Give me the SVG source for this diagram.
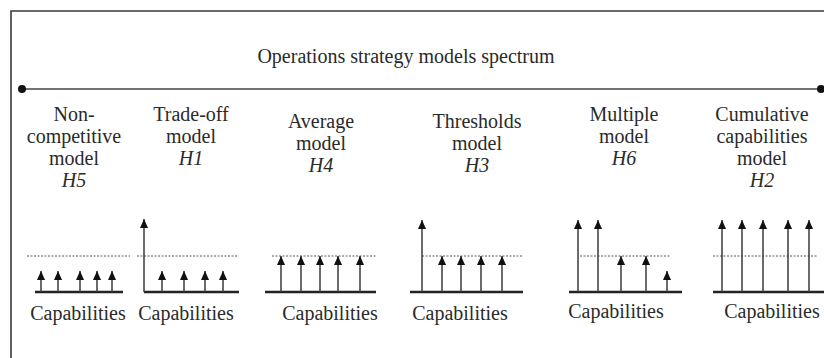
<svg xmlns="http://www.w3.org/2000/svg" width="824" height="358" viewBox="0 0 824 358">
  <style>
    text { font-family: "Liberation Serif", "Times New Roman", serif; font-size: 20px; fill: #2a2a2a; text-anchor: middle; }
    .it { font-style: italic; }
    .frame { fill: none; stroke: #3a3a3a; stroke-width: 1.6; }
    .spectrum { stroke: #444; stroke-width: 1.6; }
    .axis { stroke: #222; stroke-width: 2.6; }
    .shaft { stroke: #3a3a3a; stroke-width: 1.5; marker-end: url(#head); }
    .level { stroke: #555; stroke-width: 1; stroke-dasharray: 2 1.5; }
  </style>
  <defs>
    <marker id="head" viewBox="0 0 10 10" refX="10" refY="5" markerWidth="10" markerHeight="9" markerUnits="userSpaceOnUse" orient="auto">
      <path d="M0,0.5 L10,5 L0,9.5 z" fill="#111"/>
    </marker>
  </defs>

  <rect width="824" height="358" fill="#fff"/>

  <!-- frame (top and left edges) -->
  <path class="frame" d="M11,358 V11 H824"/>

  <!-- spectrum axis -->
  <g id="spectrum">
    <text x="406" y="63">Operations strategy models spectrum</text>
    <line class="spectrum" x1="22" y1="89" x2="821" y2="89"/>
    <circle cx="22" cy="89" r="4" fill="#111"/>
    <circle cx="821" cy="89" r="4" fill="#111"/>
  </g>

  <!-- H5: non-competitive model -->
  <g id="non-competitive">
    <text x="74" y="121">Non-</text>
    <text x="74" y="143">competitive</text>
    <text x="74" y="165">model</text>
    <text class="it" x="74" y="187">H5</text>
    <line class="level" x1="27" y1="256" x2="130" y2="256"/>
    <line class="axis" x1="35" y1="292" x2="123" y2="292"/>
    <line class="shaft" x1="41" y1="292" x2="41" y2="271"/>
    <line class="shaft" x1="58" y1="292" x2="58" y2="271"/>
    <line class="shaft" x1="80" y1="292" x2="80" y2="271"/>
    <line class="shaft" x1="97" y1="292" x2="97" y2="271"/>
    <line class="shaft" x1="112" y1="292" x2="112" y2="271"/>
    <text x="78" y="320">Capabilities</text>
  </g>

  <!-- H1: trade-off model -->
  <g id="trade-off">
    <text x="191" y="121">Trade-off</text>
    <text x="191" y="143">model</text>
    <text class="it" x="191" y="165">H1</text>
    <line class="level" x1="137" y1="256" x2="239" y2="256"/>
    <line class="axis" x1="144" y1="292" x2="239" y2="292"/>
    <line class="shaft" x1="144" y1="292" x2="144" y2="219"/>
    <line class="shaft" x1="162" y1="292" x2="162" y2="271"/>
    <line class="shaft" x1="184" y1="292" x2="184" y2="271"/>
    <line class="shaft" x1="205" y1="292" x2="205" y2="271"/>
    <line class="shaft" x1="223" y1="292" x2="223" y2="271"/>
    <text x="186" y="320">Capabilities</text>
  </g>

  <!-- H4: average model -->
  <g id="average">
    <text x="321" y="128">Average</text>
    <text x="321" y="150">model</text>
    <text class="it" x="321" y="172">H4</text>
    <line class="level" x1="272" y1="256" x2="376" y2="256"/>
    <line class="axis" x1="265" y1="292" x2="376" y2="292"/>
    <line class="shaft" x1="281" y1="292" x2="281" y2="256"/>
    <line class="shaft" x1="301" y1="292" x2="301" y2="256"/>
    <line class="shaft" x1="320" y1="292" x2="320" y2="256"/>
    <line class="shaft" x1="338" y1="292" x2="338" y2="256"/>
    <line class="shaft" x1="360" y1="292" x2="360" y2="256"/>
    <text x="330" y="320">Capabilities</text>
  </g>

  <!-- H3: thresholds model -->
  <g id="thresholds">
    <text x="477" y="128">Thresholds</text>
    <text x="477" y="150">model</text>
    <text class="it" x="477" y="172">H3</text>
    <line class="level" x1="422" y1="256" x2="523" y2="256"/>
    <line class="axis" x1="410" y1="292" x2="523" y2="292"/>
    <line class="shaft" x1="422" y1="292" x2="422" y2="220"/>
    <line class="shaft" x1="442" y1="292" x2="442" y2="256"/>
    <line class="shaft" x1="461" y1="292" x2="461" y2="256"/>
    <line class="shaft" x1="481" y1="292" x2="481" y2="256"/>
    <line class="shaft" x1="502" y1="292" x2="502" y2="256"/>
    <text x="460" y="320">Capabilities</text>
  </g>

  <!-- H6: multiple model -->
  <g id="multiple">
    <text x="624" y="121">Multiple</text>
    <text x="624" y="143">model</text>
    <text class="it" x="624" y="165">H6</text>
    <line class="level" x1="580" y1="256" x2="670" y2="256"/>
    <line class="axis" x1="569" y1="292" x2="682" y2="292"/>
    <line class="shaft" x1="578" y1="292" x2="578" y2="220"/>
    <line class="shaft" x1="598" y1="292" x2="598" y2="220"/>
    <line class="shaft" x1="621" y1="292" x2="621" y2="256"/>
    <line class="shaft" x1="646" y1="292" x2="646" y2="256"/>
    <line class="shaft" x1="667" y1="292" x2="667" y2="271"/>
    <text x="616" y="318">Capabilities</text>
  </g>

  <!-- H2: cumulative capabilities model -->
  <g id="cumulative">
    <text x="762" y="121">Cumulative</text>
    <text x="762" y="143">capabilities</text>
    <text x="762" y="165">model</text>
    <text class="it" x="762" y="187">H2</text>
    <line class="level" x1="713" y1="256" x2="817" y2="256"/>
    <line class="axis" x1="713" y1="292" x2="824" y2="292"/>
    <line class="shaft" x1="722" y1="292" x2="722" y2="220"/>
    <line class="shaft" x1="742" y1="292" x2="742" y2="220"/>
    <line class="shaft" x1="763" y1="292" x2="763" y2="220"/>
    <line class="shaft" x1="788" y1="292" x2="788" y2="220"/>
    <line class="shaft" x1="809" y1="292" x2="809" y2="220"/>
    <text x="772" y="318">Capabilities</text>
  </g>
</svg>
